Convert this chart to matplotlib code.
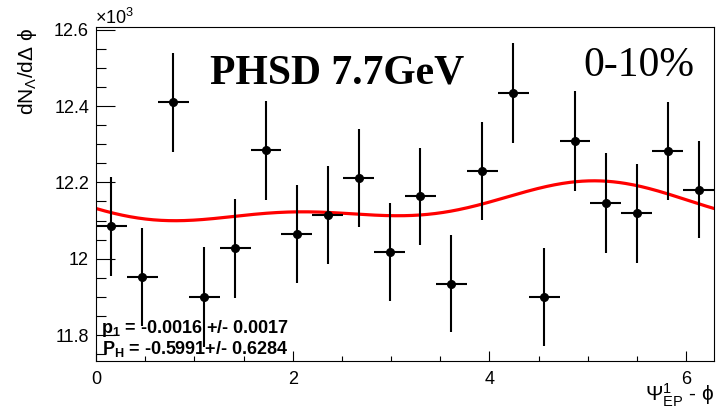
import numpy as np
import matplotlib
matplotlib.use("Agg")
import matplotlib.pyplot as plt
from matplotlib.ticker import MultipleLocator, FuncFormatter

plt.rcParams['font.family'] = ['Liberation Sans', 'DejaVu Sans']
plt.rcParams['mathtext.fontset'] = 'custom'
plt.rcParams['mathtext.rm'] = 'Liberation Sans'
plt.rcParams['mathtext.it'] = 'Liberation Sans:italic'
plt.rcParams['mathtext.bf'] = 'Liberation Sans:bold'

# ---- data (units of 10^3) ----
n_bins = 20
values = [12.085, 11.953, 12.410, 11.899, 12.027, 12.284, 12.064, 12.115, 12.211, 12.017,
          12.163, 11.935, 12.230, 12.435, 11.900, 12.309, 12.146, 12.119, 12.282, 12.181]
errors = [0.130, 0.128, 0.130, 0.131, 0.129, 0.130, 0.128, 0.129, 0.129, 0.128,
          0.128, 0.128, 0.129, 0.131, 0.129, 0.131, 0.130, 0.129, 0.129, 0.128]
# fit curve parameters (Fourier form)
fit_c0 = 12.1389
fit_a1, fit_b1 = 0.0094, -0.0403
fit_a2, fit_b2 = -0.01675, -0.0175

label_title = "PHSD 7.7GeV"
label_cent = "0-10%"
stat_line1 = r"p$_{\mathbf{1}}$ = -0.0016 +/- 0.0017"
stat_line2 = r"P$_{\mathbf{H}}$ = -0.5991+/- 0.6284"

W, H = 717, 409
fig = plt.figure(figsize=(W / 100, H / 100), dpi=100)
ax = fig.add_axes([96 / W, (H - 361) / H, (714 - 96) / W, (361 - 27) / H])

edges = np.linspace(0, 2 * np.pi, n_bins + 1)
centers = 0.5 * (edges[:-1] + edges[1:])
halfw = 0.5 * (edges[1] - edges[0])

ax.errorbar(centers, values, yerr=errors, xerr=halfw, fmt='o', color='black',
            ms=5.5, elinewidth=1.5, capsize=0, zorder=3)

xf = np.linspace(0, 2 * np.pi, 400)
yf = (fit_c0 + fit_a1 * np.cos(xf) + fit_b1 * np.sin(xf)
      + fit_a2 * np.cos(2 * xf) + fit_b2 * np.sin(2 * xf))
ax.plot(xf, yf, color='#ff0000', lw=2.3, zorder=2)

ax.set_xlim(0, 2 * np.pi)
ax.set_ylim(11.732, 12.607)

ax.xaxis.set_major_locator(MultipleLocator(2))
ax.xaxis.set_minor_locator(MultipleLocator(0.5))
ax.yaxis.set_major_locator(MultipleLocator(0.2))
ax.yaxis.set_minor_locator(MultipleLocator(0.05))
ax.yaxis.set_major_formatter(FuncFormatter(lambda v, p: "%g" % round(v, 2)))
ax.xaxis.set_major_formatter(FuncFormatter(lambda v, p: "%g" % round(v, 2)))

ax.tick_params(axis='both', which='both', direction='in', top=False, right=False,
               labelsize=13, width=0.8, color='black')
ax.tick_params(axis='y', which='major', length=14, pad=5)
ax.tick_params(axis='y', which='minor', length=7)
ax.tick_params(axis='x', which='major', length=7, pad=7)
ax.tick_params(axis='x', which='minor', length=3.5)
for s in ax.spines.values():
    s.set_linewidth(0.8)
    s.set_color('black')

def fy(y):
    return (H - y) / H

def fx(x):
    return x / W

fig.text(fx(210), fy(83), label_title, family='Liberation Serif', weight='bold',
         fontsize=30, va='baseline', ha='left')
fig.text(fx(583), fy(76), label_cent, family='Liberation Serif', fontsize=30,
         va='baseline', ha='left')
fig.text(fx(101), fy(333), stat_line1, weight='bold', fontsize=13, va='baseline', ha='left')
fig.text(fx(102), fy(354), stat_line2, weight='bold', fontsize=13, va='baseline', ha='left')

fig.text(fx(95), fy(24), r"$\times$10$^{3}$", fontsize=13, va='baseline', ha='left')

fig.text(fx(33), fy(28), r"dN$_{\mathrm{Λ}}$/dΔ ϕ", rotation=90, fontsize=15,
         ha='right', va='baseline', rotation_mode='anchor')
fig.text(fx(714), fy(401), r"Ψ$^{1}_{\mathrm{EP}}$ - ϕ", fontsize=15,
         ha='right', va='baseline')

fig.savefig("out.png", dpi=100)
